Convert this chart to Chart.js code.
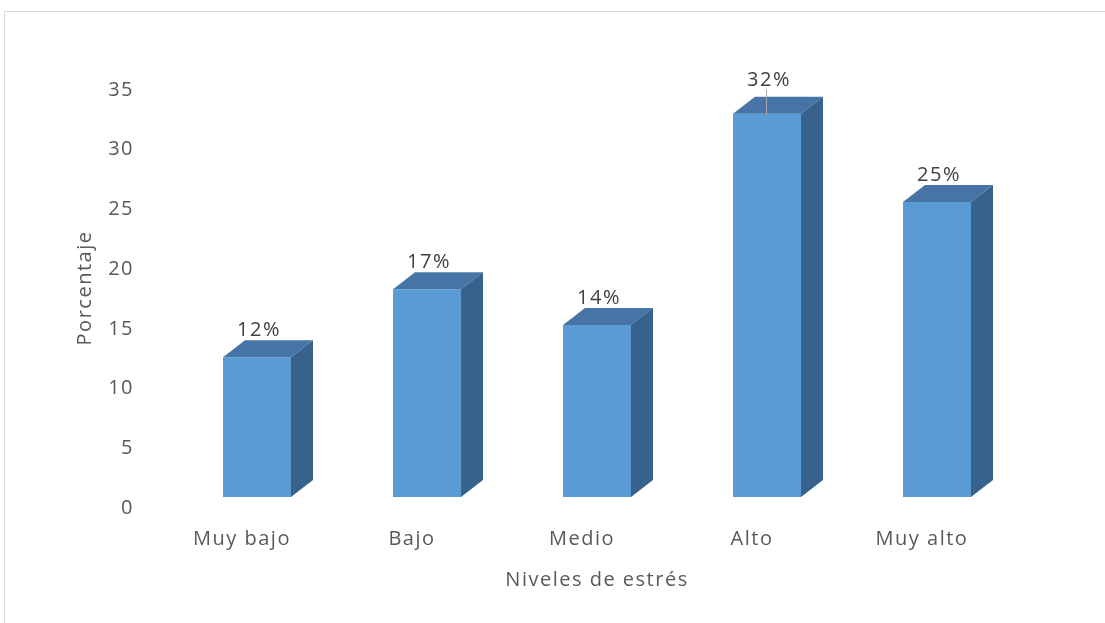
<!DOCTYPE html>
<html>
<head>
<meta charset="utf-8">
<script src="https://cdn.jsdelivr.net/npm/chart.js@4.4.0/dist/chart.umd.min.js"></script>
<style>
  body { margin: 0; background: #fff; }
  #wrap { position: relative; width: 1105px; height: 623px; }
  #marco { position: absolute; left: 4px; top: 11px; right: 0; bottom: 0;
           border-top: 1px solid #d9d9d9; border-left: 1px solid #d9d9d9; }
  #grafico { position: absolute; left: 0; top: 0; }
</style>
</head>
<body>
<div id="wrap">
  <div id="marco"></div>
  <canvas id="grafico"></canvas>
</div>
<script>
// datos
var categorias = ['Muy bajo', 'Bajo', 'Medio', 'Alto', 'Muy alto'];
var porcentajes = [11.7, 17.4, 14.4, 32.1, 24.7];
var ticksY = [0, 5, 10, 15, 20, 25, 30, 35];

var fuente = { family: "'Open Sans', sans-serif", size: 20 };

// caras superior y lateral de las barras 3D + etiquetas de datos
var barras3d = {
  id: 'barras3d',
  beforeDraw: function (chart) {
    chart.ctx.letterSpacing = '1.5px';
  },
  afterDatasetsDraw: function (chart) {
    var ctx = chart.ctx;
    var meta = chart.getDatasetMeta(0);
    var dx = 22, dy = 17;
    var maximo = Math.max.apply(null, porcentajes);
    ctx.save();
    meta.data.forEach(function (bar, i) {
      var p = bar.getProps(['x', 'y', 'base', 'width'], true);
      var l = p.x - p.width / 2, r = p.x + p.width / 2, t = p.y, b = p.base;

      // cara superior
      ctx.fillStyle = '#4674a6';
      ctx.beginPath();
      ctx.moveTo(l, t);
      ctx.lineTo(l + dx, t - dy);
      ctx.lineTo(r + dx, t - dy);
      ctx.lineTo(r, t);
      ctx.closePath();
      ctx.fill();

      // cara lateral
      ctx.fillStyle = '#37628c';
      ctx.beginPath();
      ctx.moveTo(r, t);
      ctx.lineTo(r + dx, t - dy);
      ctx.lineTo(r + dx, b - dy);
      ctx.lineTo(r, b);
      ctx.closePath();
      ctx.fill();

      // etiqueta
      var sube = porcentajes[i] === maximo ? 6 : 0;
      var ly = t - dy - 10 - sube;
      ctx.font = fuente.size + 'px ' + fuente.family;
      ctx.fillStyle = '#404040';
      ctx.textAlign = 'center';
      ctx.textBaseline = 'middle';
      ctx.fillText(Math.round(porcentajes[i]) + '%', p.x + 2, ly);

      // linea guia de la etiqueta desplazada
      if (sube) {
        ctx.strokeStyle = '#a6a6a6';
        ctx.lineWidth = 1;
        ctx.beginPath();
        ctx.moveTo(Math.round(p.x) - 0.5, ly + 9);
        ctx.lineTo(Math.round(p.x) - 0.5, t + 2);
        ctx.stroke();
      }
    });
    ctx.restore();
  }
};

var ctx = document.getElementById('grafico').getContext('2d');

var chart = new Chart(ctx, {
  type: 'bar',
  data: {
    labels: categorias,
    datasets: [{
      label: 'Porcentaje',
      data: porcentajes,
      backgroundColor: '#5b9bd5',
      borderWidth: 0,
      barPercentage: 0.4,
      categoryPercentage: 1
    }]
  },
  options: {
    responsive: true,
    maintainAspectRatio: false,
    animation: false,
    layout: {
      padding: { left: 60, right: 83, top: 79, bottom: 0 }
    },
    plugins: {
      legend: { display: false },
      tooltip: { enabled: false }
    },
    scales: {
      x: {
        grid: { display: false, drawTicks: false },
        border: { display: false },
        ticks: {
          color: '#595959',
          font: fuente,
          padding: 30,
          labelOffset: -15,
          maxRotation: 0
        },
        title: {
          display: true,
          text: 'Niveles de estrés',
          color: '#595959',
          font: fuente,
          padding: { top: 0, bottom: 31 }
        },
        afterFit: function (scale) { scale.height = 126; }
      },
      y: {
        min: ticksY[0],
        max: ticksY[ticksY.length - 1],
        grid: { display: false, drawTicks: false },
        border: { display: false },
        ticks: {
          stepSize: ticksY[1] - ticksY[0],
          color: '#595959',
          font: fuente,
          padding: 38,
          labelOffset: 11
        },
        title: {
          display: true,
          text: 'Porcentaje',
          color: '#595959',
          font: fuente,
          padding: { top: 13, bottom: 0 }
        },
        afterFit: function (scale) { scale.width = 112; }
      }
    }
  },
  plugins: [barras3d]
});
</script>
</body>
</html>
